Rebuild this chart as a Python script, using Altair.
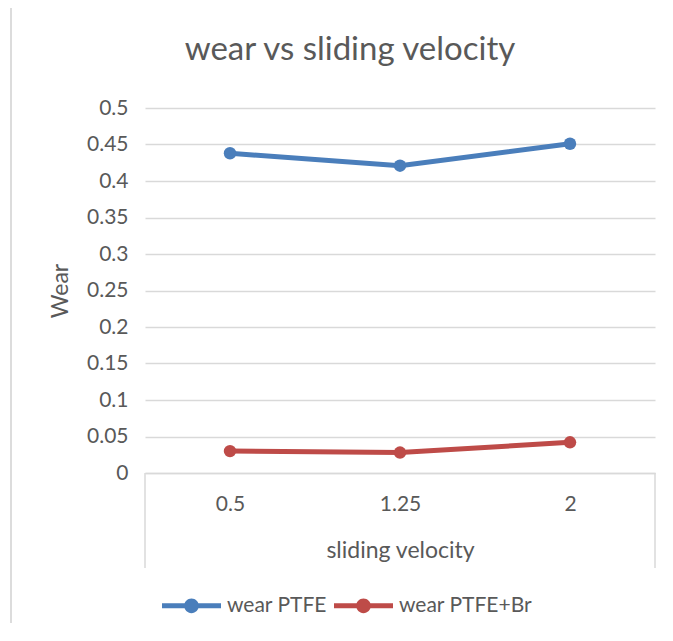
import altair as alt
import pandas as pd

velocity = ["0.5", "1.25", "2"]
series_names = ["wear PTFE", "wear PTFE+Br"]
wear_ptfe = [0.438, 0.421, 0.451]
wear_ptfe_br = [0.030, 0.028, 0.042]
y_ticks = [0, 0.05, 0.1, 0.15, 0.2, 0.25, 0.3, 0.35, 0.4, 0.45, 0.5]
colors = ["#4A7EBB", "#BE4B48"]

rows = []
for name, vals in zip(series_names, [wear_ptfe, wear_ptfe_br]):
    for v, w in zip(velocity, vals):
        rows.append({"velocity": v, "wear": w, "series": name})
df = pd.DataFrame(rows)

FONT = "Lato"
GREY = "#595959"
LINE = "#D9D9D9"
W, H = 510, 365

legend_symbol = ("M-1,-0.085L1,-0.085L1,0.085L-1,0.085Z "
                 "M0.25,0A0.25,0.25,0,1,1,-0.25,0A0.25,0.25,0,1,1,0.25,0Z")

x_enc = alt.X("velocity:O", sort=velocity,
              scale=alt.Scale(type="point", padding=0.5),
              axis=alt.Axis(title="sliding velocity", labelAngle=0, ticks=False,
                            labelPadding=20, titlePadding=25, grid=False,
                            domainColor=LINE, domainWidth=1.5))
y_enc = alt.Y("wear:Q", scale=alt.Scale(domain=[0, 0.5], nice=False),
              axis=alt.Axis(title="Wear", values=y_ticks, format=".2~f",
                            ticks=False, domain=False, labelPadding=17,
                            titlePadding=14, gridColor=LINE, gridWidth=1.3))
color_enc = alt.Color("series:N",
                      scale=alt.Scale(domain=series_names, range=colors),
                      legend=alt.Legend(title=None, orient="none", direction="horizontal",
                                        legendX=17, legendY=H + 103,
                                        symbolType=legend_symbol, symbolSize=3481,
                                        symbolStrokeWidth=0, symbolOpacity=1,
                                        labelFont=FONT, labelFontSize=21,
                                        labelColor=GREY, labelOffset=6,
                                        columnPadding=7))

lines = alt.Chart(df).mark_line(strokeWidth=5).encode(x=x_enc, y=y_enc, color=color_enc)
points = alt.Chart(df).mark_circle(size=155, opacity=1).encode(x=x_enc, y=y_enc, color=color_enc)

deco = pd.DataFrame({"k": [0]})
left_tick = alt.Chart(deco).mark_rule(color=LINE, strokeWidth=1.5).encode(
    x=alt.value(0), y=alt.value(H), y2=alt.value(H + 95))
right_tick = alt.Chart(deco).mark_rule(color=LINE, strokeWidth=1.5).encode(
    x=alt.value(W), y=alt.value(H), y2=alt.value(H + 95))
frame_top = alt.Chart(deco).mark_rule(color="#D0D0D0", strokeWidth=1.5).encode(
    x=alt.value(-134), x2=alt.value(W + 10), y=alt.value(-102))
frame_left = alt.Chart(deco).mark_rule(color="#D0D0D0", strokeWidth=1.5).encode(
    x=alt.value(-134), y=alt.value(-102), y2=alt.value(H + 150))

chart = alt.layer(left_tick, right_tick, frame_top, frame_left, lines, points).properties(
    width=W, height=H,
    title=alt.TitleParams("wear vs sliding velocity", font=FONT, fontSize=33,
                          fontWeight="normal", color=GREY, anchor="middle",
                          frame="group", dx=-50, offset=-62),
    autosize=alt.AutoSizeParams(type="none"),
    padding={"left": 137, "top": 100, "right": 8, "bottom": 150},
).configure(background="white").configure_view(stroke=None).configure_axis(
    labelFont=FONT, labelFontSize=21, labelColor=GREY,
    titleFont=FONT, titleFontSize=23, titleColor=GREY, titleFontWeight="normal"
)

chart.save("out.html", embed_options={"renderer": "svg", "actions": False})
